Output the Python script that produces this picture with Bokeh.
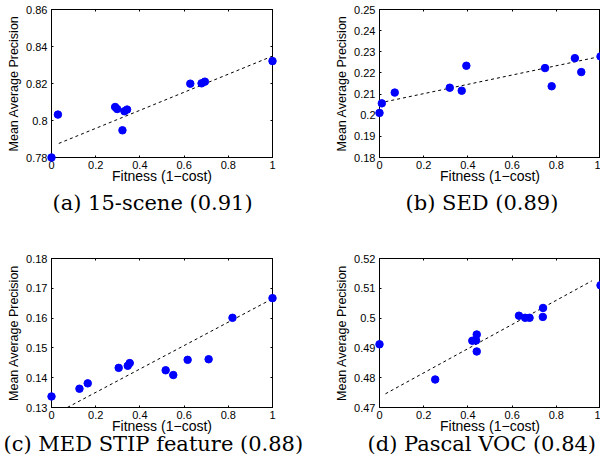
from bokeh.plotting import figure
from bokeh.models import LinearAxis, CustomJSTickFormatter, Title, FixedTicker, Range1d
from bokeh.layouts import column, row
from bokeh.embed import file_html
from bokeh.resources import INLINE

# ---------------- data ----------------
a_x = [0.0, 0.029, 0.288, 0.297, 0.330, 0.342, 0.321, 0.628, 0.679, 0.694, 1.0]
a_y = [0.7800, 0.8032, 0.8073, 0.8062, 0.8050, 0.8059, 0.7947, 0.8199, 0.8201, 0.8210, 0.8321]
a_fit_x = [0.033, 1.0]
a_fit_y = [0.7876, 0.8348]

b_x = [0.0, 0.0105, 0.069, 0.318, 0.372, 0.393, 0.749, 0.779, 0.884, 0.913, 1.0]
b_y = [0.2011, 0.2056, 0.2107, 0.2130, 0.2116, 0.2234, 0.2223, 0.2137, 0.2270, 0.2204, 0.2278]
b_fit_x = [0.0, 1.0]
b_fit_y = [0.2058, 0.2278]

c_x = [0.0, 0.1265, 0.164, 0.304, 0.345, 0.354, 0.5166, 0.551, 0.616, 0.711, 0.819, 1.0]
c_y = [0.1337, 0.1363, 0.1381, 0.1433, 0.1440, 0.1449, 0.1425, 0.1409, 0.1460, 0.1462, 0.1601, 0.1667]
c_fit_x = [0.0, 1.0]
c_fit_y = [0.1272, 0.1665]

d_x = [0.0, 0.252, 0.420, 0.437, 0.440, 0.440, 0.631, 0.659, 0.679, 0.740, 0.739, 1.0]
d_y = [0.4912, 0.4794, 0.4924, 0.4925, 0.4945, 0.4888, 0.5008, 0.5001, 0.5001, 0.5034, 0.5004, 0.5110]
d_fit_x = [0.027, 0.961]
d_fit_y = [0.4746, 0.5125]

x_ticks = [0, 0.2, 0.4, 0.6, 0.8, 1.0]
a_yticks = [0.78, 0.80, 0.82, 0.84, 0.86]
b_yticks = [0.18, 0.19, 0.20, 0.21, 0.22, 0.23, 0.24, 0.25]
c_yticks = [0.13, 0.14, 0.15, 0.16, 0.17, 0.18]
d_yticks = [0.47, 0.48, 0.49, 0.50, 0.51, 0.52]

captions = ["(a) 15-scene (0.91)", "(b) SED (0.89)",
            "(c) MED STIP feature (0.88)", "(d) Pascal VOC (0.84)"]
x_label = "Fitness (1\u2212cost)"
y_label = "Mean Average Precision"

fmt_code = "return String(+tick.toFixed(6));"
SANS = "Liberation Sans"
SERIF = "DejaVu Serif"


def make_panel(xs, ys, fx, fy, yticks, caption, width, height, bl, br, bt, bb,
               right_axis, cap_offset, cap_standoff):
    p = figure(width=width, height=height, output_backend="svg", toolbar_location=None,
               x_range=Range1d(0, 1), y_range=Range1d(yticks[0], yticks[-1]),
               min_border_left=bl, min_border_right=br, min_border_top=bt,
               min_border_bottom=bb, x_axis_location=None, y_axis_location=None)
    p.grid.visible = False
    p.outline_line_color = "black"
    p.outline_line_width = 1
    p.background_fill_color = "white"
    p.border_fill_color = "white"

    xa = LinearAxis(ticker=FixedTicker(ticks=x_ticks),
                    formatter=CustomJSTickFormatter(code=fmt_code),
                    axis_label=x_label)
    ya = LinearAxis(ticker=FixedTicker(ticks=yticks),
                    formatter=CustomJSTickFormatter(code=fmt_code),
                    axis_label=y_label)
    for ax in (xa, ya):
        ax.major_tick_in = 2
        ax.major_tick_out = 0
        ax.minor_tick_in = 0
        ax.minor_tick_out = 0
        ax.axis_line_color = "black"
        ax.major_tick_line_color = "black"
        ax.major_label_text_font = SANS
        ax.major_label_text_font_size = "11px"
        ax.major_label_text_color = "black"
        ax.axis_label_text_font = SANS
        ax.axis_label_text_font_style = "normal"
        ax.axis_label_text_color = "black"
    xa.major_label_standoff = 3
    xa.axis_label_standoff = -4
    xa.axis_label_text_font_size = "14px"
    ya.major_label_standoff = 4
    ya.axis_label_standoff = 2
    ya.axis_label_text_font_size = "12.5px"
    p.add_layout(xa, "below")
    p.add_layout(ya, "left")

    extras = [("above", x_ticks)]
    if right_axis:
        extras.append(("right", yticks))
    for side, tk in extras:
        ax = LinearAxis(ticker=FixedTicker(ticks=tk))
        ax.major_tick_in = 2
        ax.major_tick_out = 0
        ax.minor_tick_in = 0
        ax.minor_tick_out = 0
        ax.major_label_text_font_size = "1px"
        ax.major_label_text_color = None
        ax.major_label_standoff = 0
        ax.axis_line_color = "black"
        p.add_layout(ax, side)

    p.line(fx, fy, line_color="black", line_width=1, line_dash="3 3")
    p.scatter(xs, ys, size=7.5, fill_color="#0000ff", line_color="#0000ff", level="overlay")

    t = Title(text=caption, text_font=SERIF, text_font_size="21px",
              text_font_style="normal", text_color="black", align="left",
              vertical_align="top", offset=cap_offset, standoff=cap_standoff)
    p.add_layout(t, "below")
    return p


pa = make_panel(a_x, a_y, a_fit_x, a_fit_y, a_yticks, captions[0],
                300, 222, 51, 28, 9, 65, True, 1, 8)
pb = make_panel(b_x, b_y, b_fit_x, b_fit_y, b_yticks, captions[1],
                300, 222, 79, 0, 9, 65, False, 26, 8)
pc = make_panel(c_x, c_y, c_fit_x, c_fit_y, c_yticks, captions[2],
                310, 243, 51, 38, 36, 58, True, -48, -10)
pd = make_panel(d_x, d_y, d_fit_x, d_fit_y, d_yticks, captions[3],
                290, 243, 69, 0, 36, 58, False, -12, -10)

layout = column(row(pa, pb), row(pc, pd))
open("out.html", "w").write(file_html(layout, INLINE))
